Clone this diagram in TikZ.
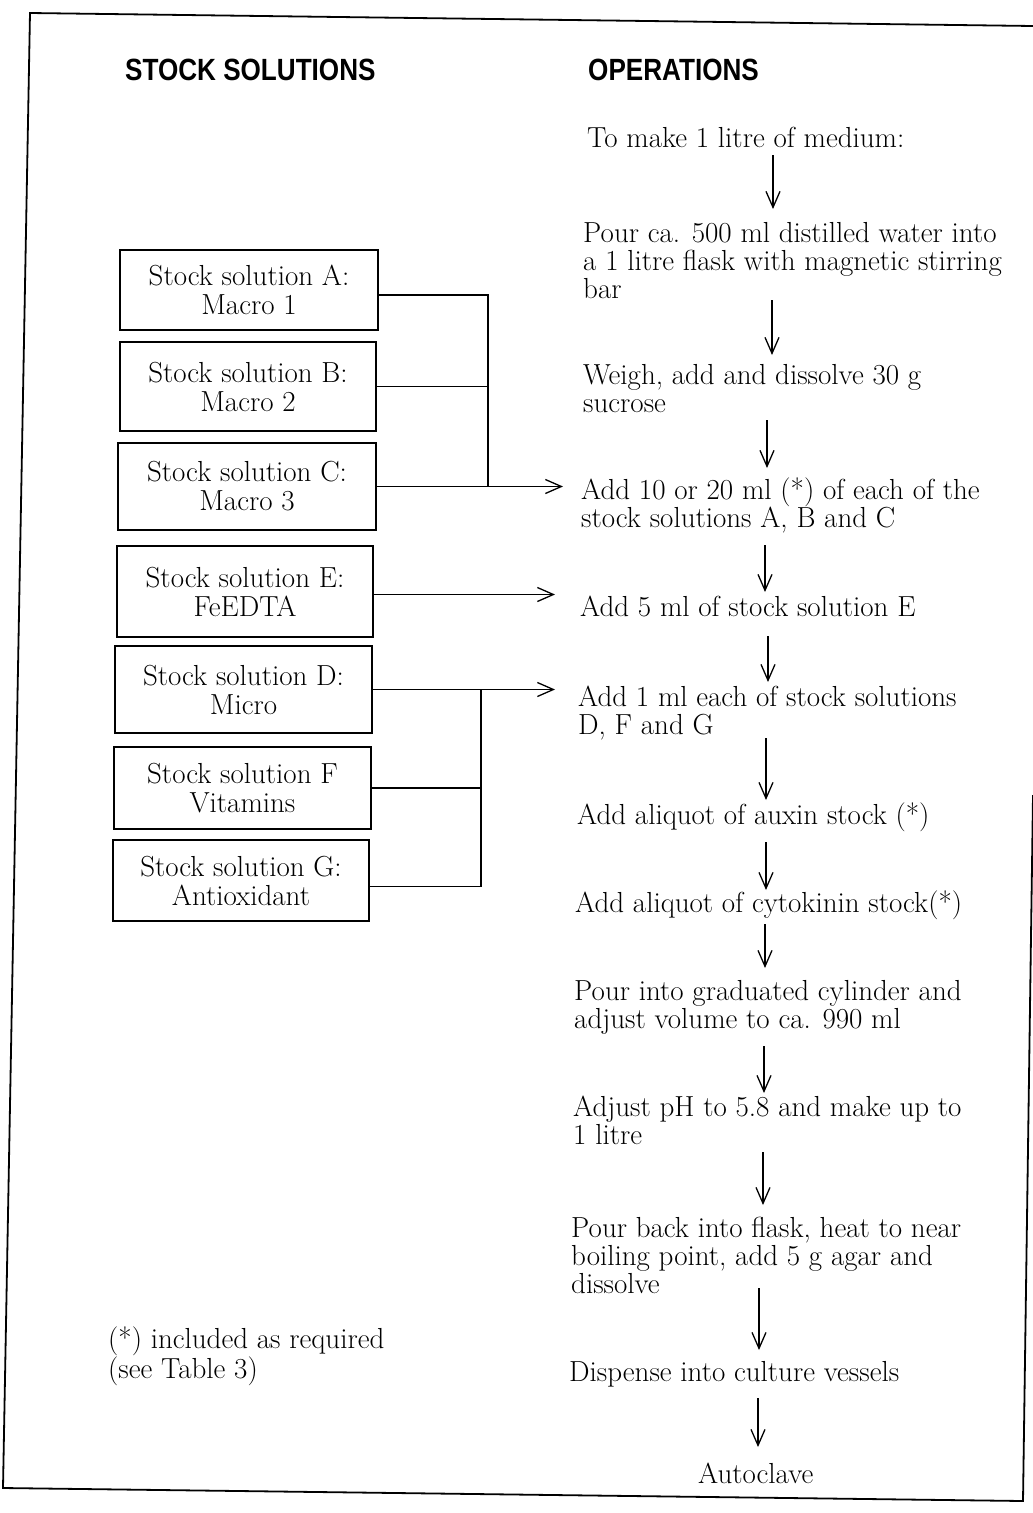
\documentclass[tikz,border=0pt]{standalone}
\usepackage{fontspec}
\newfontfamily\headfont{Liberation Sans}
\usetikzlibrary{arrows.meta}
\newcommand\myfont{\fontsize{29}{28}\selectfont}
\newcommand\boxfont{\fontsize{29}{29}\selectfont}
\newcommand\mystrut{\rule{0pt}{22pt}}
\begin{document}
\begin{tikzpicture}[x=1pt,y=-1pt]
\tikzset{
  box/.style={draw, line width=1.8pt, inner sep=0, align=center, font=\boxfont},
  op/.style={inner sep=0, anchor=north west, align=left, font=\myfont},
  head/.style={inner sep=0, anchor=base west, font=\headfont\bfseries\fontsize{30.7}{34}\selectfont},
  link/.style={line width=1.3pt},
  flow/.style={line width=1.3pt, -{Straight Barb[length=16pt,width=14pt,line width=1.3pt]}},
  frame/.style={line width=1.8pt}
}
\useasboundingbox (0,0) rectangle (1033,1513);
% frame
\draw[frame] (1033,26) -- (30,13) -- (3,1488) -- (1023,1501) -- (1033,795);
% headings
\node[head] (h1) at (125,80) {\scalebox{0.85}[1]{STOCK SOLUTIONS}};
\node[head] (h2) at (588,80) {\scalebox{0.85}[1]{OPERATIONS}};
% stock boxes
\node[box, minimum width=258pt, minimum height=80pt] (A) at (249,290) {Stock solution A:\\Macro 1};
\node[box, minimum width=256pt, minimum height=89pt] (B) at (248,386.5) {Stock solution B:\\Macro 2};
\node[box, minimum width=258pt, minimum height=87pt] (C) at (247,486.5) {Stock solution C:\\Macro 3};
\node[box, minimum width=256pt, minimum height=91pt] (E) at (245,591.5) {Stock solution E:\\FeEDTA};
\node[box, minimum width=257pt, minimum height=87pt] (D) at (243.5,689.5) {Stock solution D:\\Micro};
\node[box, minimum width=257pt, minimum height=82pt] (F) at (242.5,788) {Stock solution F\\Vitamins};
\node[box, minimum width=256pt, minimum height=81pt] (G) at (241,880.5) {Stock solution G:\\Antioxidant};
% operations
\node[op] (o1) at (587,125) {\mystrut To make 1 litre of medium:};
\node[op] (o2) at (583,220) {\mystrut Pour ca. 500 ml distilled water into\\a 1 litre flask with magnetic stirring\\bar};
\node[op] (o3) at (583,362) {\mystrut Weigh, add and dissolve 30 g\\sucrose};
\node[op] (o4) at (581,477) {\mystrut Add 10 or 20 ml (*) of each of the\\stock solutions A, B and C};
\node[op] (o5) at (580,594) {\mystrut Add 5 ml of stock solution E};
\node[op] (o6) at (578,684) {\mystrut Add 1 ml each of stock solutions\\D, F and G};
\node[op] (o7) at (577,802) {\mystrut Add aliquot of auxin stock (*)};
\node[op] (o8) at (575,890) {\mystrut Add aliquot of cytokinin stock(*)};
\node[op] (o9) at (574,978) {\mystrut Pour into graduated cylinder and\\adjust volume to ca. 990 ml};
\node[op] (o10) at (573,1094) {\mystrut Adjust pH to 5.8 and make up to\\1 litre};
\node[op] (o11) at (571,1215) {\mystrut Pour back into flask, heat to near\\boiling point, add 5 g agar and\\dissolve};
\node[op] (o12) at (569,1359) {\mystrut Dispense into culture vessels};
\node[op] (o13) at (698,1461) {\mystrut Autoclave};
% footnote
\node[op, font=\fontsize{29}{27}\selectfont] (fn) at (108,1326) {\mystrut(*) included as required\\(see Table 3)};
% vertical flow arrows
\coordinate (s1) at (773,155);  \coordinate (e1) at (773,209);
\coordinate (s2) at (772,300);  \coordinate (e2) at (772,355);
\coordinate (s3) at (767,420);  \coordinate (e3) at (767,468);
\coordinate (s4) at (765,545);  \coordinate (e4) at (765,592);
\coordinate (s5) at (768,636);  \coordinate (e5) at (768,682);
\coordinate (s6) at (766,738);  \coordinate (e6) at (766,800);
\coordinate (s7) at (766,842);  \coordinate (e7) at (766,890);
\coordinate (s8) at (765,924);  \coordinate (e8) at (765,968);
\coordinate (s9) at (764,1046); \coordinate (e9) at (764,1093);
\coordinate (s10) at (763,1152); \coordinate (e10) at (763,1205);
\coordinate (s11) at (759,1288); \coordinate (e11) at (759,1350);
\coordinate (s12) at (758,1398); \coordinate (e12) at (758,1447);
\foreach \i in {1,...,12} { \draw[flow] (s\i) -- (e\i); }
% stock connectors
\coordinate (bx1) at (488,0);
\coordinate (bx2) at (481,0);
\coordinate (tipC) at (563,0);
\coordinate (tipE) at (555,0);
\coordinate (tipD) at (555,0);
\draw[link] ([yshift=-5pt]A.east) -- ([yshift=-5pt]A.east -| bx1) -- (C.east -| bx1);
\draw[link] (B.east) -- (B.east -| bx1);
\draw[flow] (C.east) -- (C.east -| tipC);
\draw[flow] ([yshift=-3pt]E.east) -- ([yshift=-3pt]E.east -| tipE);
\draw[flow] (D.east) -- (D.east -| tipD);
\draw[link] (D.east -| bx2) -- ([yshift=-6pt]G.east -| bx2) -- ([yshift=-6pt]G.east);
\draw[link] (F.east) -- (F.east -| bx2);
\end{tikzpicture}
\end{document}
